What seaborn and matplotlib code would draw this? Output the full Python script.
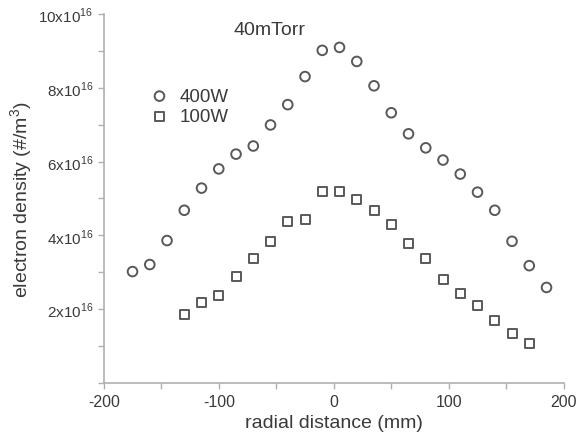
import numpy as np
import pandas as pd
import matplotlib
matplotlib.use('Agg')
import matplotlib.pyplot as plt
import seaborn as sns
from matplotlib.ticker import MultipleLocator, FuncFormatter

# data (density in units of 1e16 #/m^3)
x_400w = [-175, -160, -145, -130, -115, -100, -85, -70, -55, -40, -25, -10, 5,
          20, 35, 50, 65, 80, 95, 110, 125, 140, 155, 170, 185]
y_400w = [3.02, 3.21, 3.86, 4.68, 5.28, 5.80, 6.20, 6.42, 6.99, 7.54, 8.30, 9.01, 9.09,
          8.71, 8.05, 7.32, 6.75, 6.37, 6.04, 5.66, 5.17, 4.68, 3.84, 3.18, 2.59]
x_100w = [-130, -115, -100, -85, -70, -55, -40, -25, -10, 5, 20, 35, 50,
          65, 80, 95, 110, 125, 140, 155, 170]
y_100w = [1.85, 2.18, 2.37, 2.88, 3.37, 3.84, 4.38, 4.44, 5.20, 5.20, 4.98, 4.68, 4.30,
          3.78, 3.37, 2.80, 2.42, 2.10, 1.69, 1.33, 1.06]

y_ticks = [2, 4, 6, 8, 10]
x_ticks = [-200, -100, 0, 100, 200]

df_400 = pd.DataFrame({'r': x_400w, 'ne': y_400w})
df_100 = pd.DataFrame({'r': x_100w, 'ne': y_100w})

sns.set_style('white')
plt.rcParams['font.family'] = ['Liberation Sans', 'DejaVu Sans']
plt.rcParams['mathtext.fontset'] = 'custom'
plt.rcParams['mathtext.rm'] = 'Liberation Sans'
plt.rcParams['axes.unicode_minus'] = False

text_col = '#3a3a3a'
mark_col = '#595959'

fig = plt.figure(figsize=(5.83, 4.35), dpi=100)
ax = fig.add_axes([0.178, 0.117, 0.789, 0.849])

sns.scatterplot(data=df_400, x='r', y='ne', marker='o', s=48, facecolor='none',
                edgecolor=mark_col, linewidth=1.4, label='400W', ax=ax)
sns.scatterplot(data=df_100, x='r', y='ne', marker='s', s=42, facecolor='none',
                edgecolor=mark_col, linewidth=1.4, label='100W', ax=ax)

ax.set_xlim(-200, 200)
ax.set_ylim(0, 10)
ax.set_xticks(x_ticks)
ax.set_yticks(y_ticks)
ax.xaxis.set_minor_locator(MultipleLocator(50))
ax.yaxis.set_minor_locator(MultipleLocator(1))
ax.yaxis.set_major_formatter(FuncFormatter(lambda v, p: f'{int(v)}x10$^{{16}}$'))

for s in ['top', 'right']:
    ax.spines[s].set_visible(False)
for s in ['left', 'bottom']:
    ax.spines[s].set_color('#b0b0b0')
    ax.spines[s].set_linewidth(1.2)
ax.tick_params(which='both', direction='out', length=4, width=1, color='#b0b0b0',
               labelcolor=text_col, labelsize=11, left=True, bottom=True)
ax.tick_params(axis='x', labelsize=11.5)

ax.set_xlabel('radial distance (mm)', fontsize=14, color=text_col, va='center')
ax.set_ylabel('electron density (#/m$^3$)', fontsize=14, color=text_col, va='center')
ax.xaxis.set_label_coords(0.5, -0.106)
ax.yaxis.set_label_coords(-0.178, 0.5)

ax.text(-56, 9.58, '40mTorr', fontsize=14, color=text_col, ha='center', va='center')

leg = ax.legend(loc='upper left', bbox_to_anchor=(0.064, 0.845), frameon=False,
                fontsize=13.5, handletextpad=0.6, labelspacing=0.15, handlelength=1.0,
                labelcolor=text_col)

fig.savefig('out.png', dpi=100)
